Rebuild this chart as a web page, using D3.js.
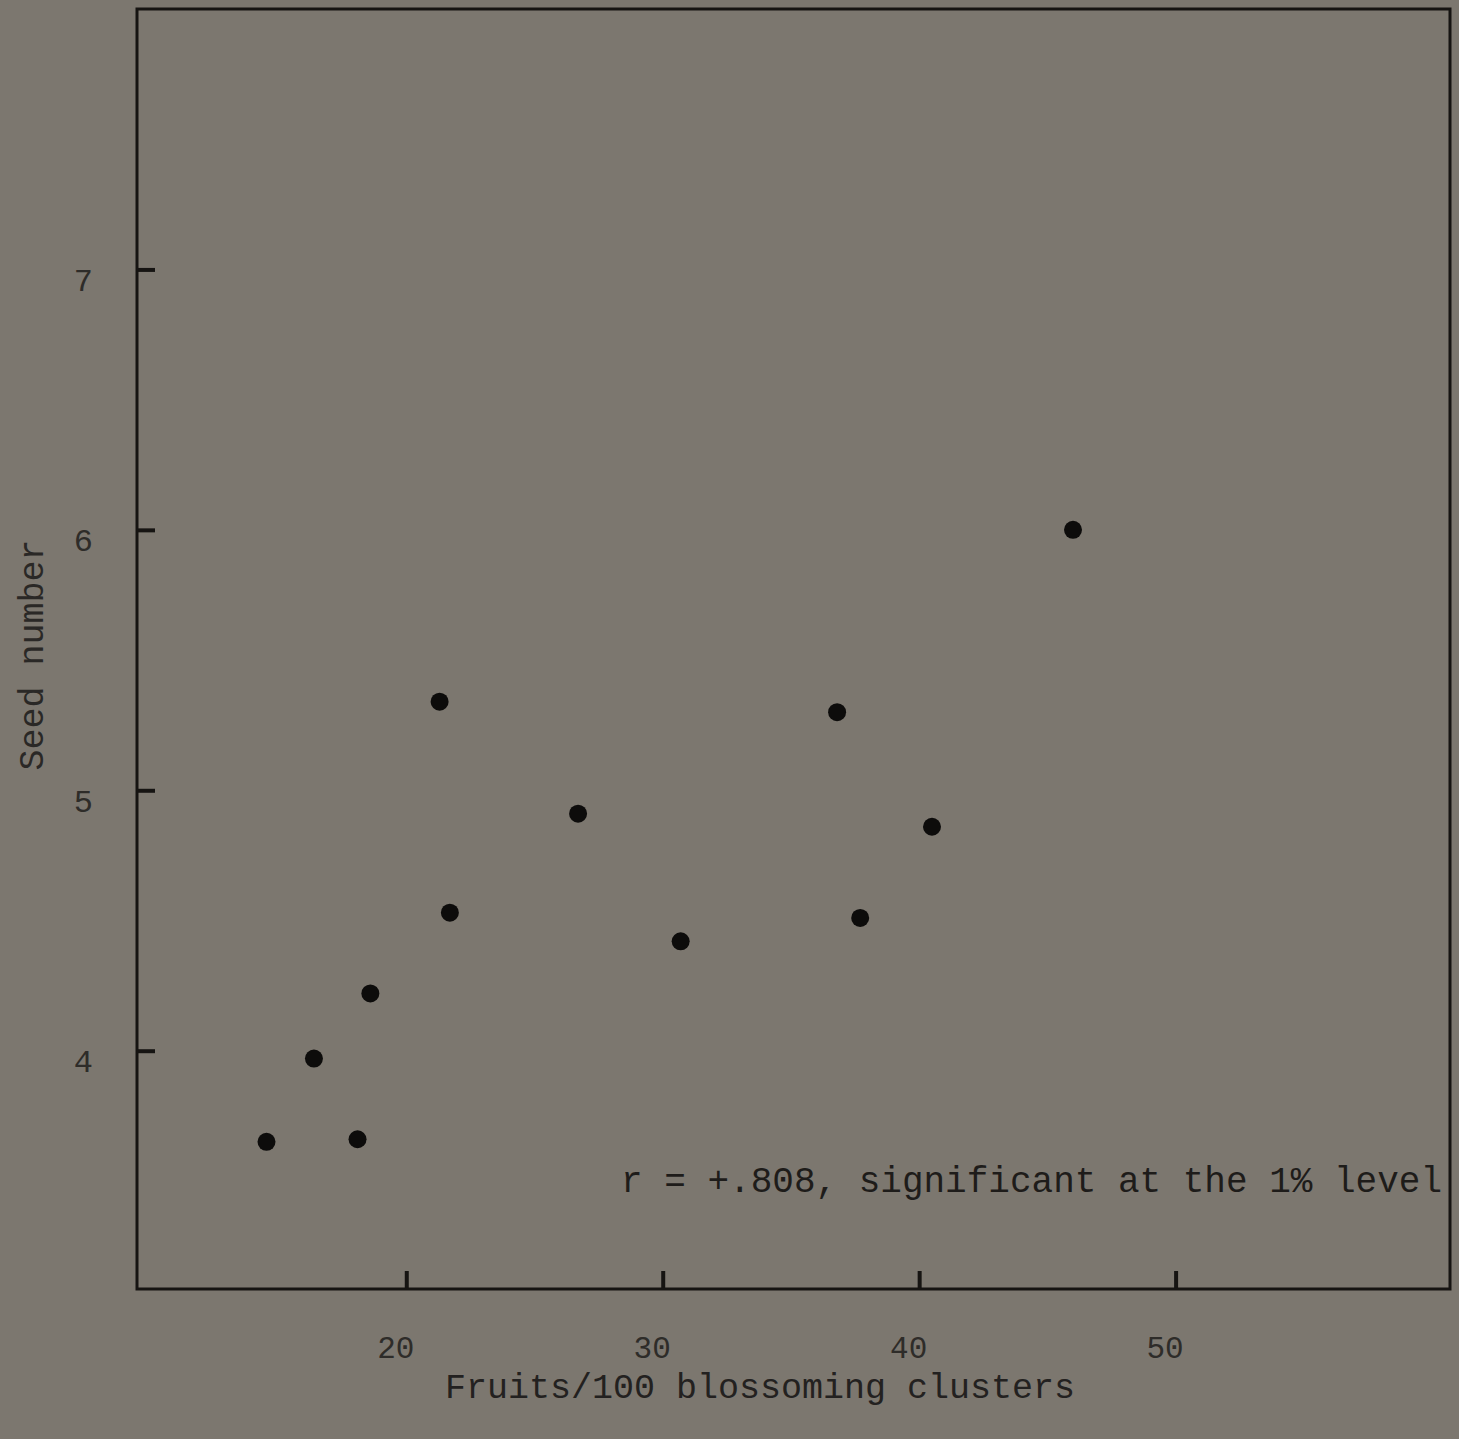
<!DOCTYPE html>
<html lang="en">
<head>
	<title>Seed number vs fruits</title>
	<script src="https://d3js.org/d3.v7.min.js" charset="utf-8"></script>
	<style>
		body { margin: 0; background: #7c776f; }
		text { font-family: "Liberation Mono", "DejaVu Sans Mono", monospace; }
	</style>
</head>
<body>
	<div id="chart"></div>
<script>
	// Data
	var fruits = [14.55, 16.4, 18.1, 18.6, 21.3, 21.7, 26.7, 30.7, 36.8, 37.7, 40.5, 46.0];
	var seeds  = [3.65, 3.97, 3.66, 4.22, 5.34, 4.53, 4.91, 4.42, 5.30, 4.51, 4.86, 6.00];
	var xTicks = [20, 30, 40, 50];
	var yTicks = [4, 5, 6, 7];
	var note = "r = +.808, significant at the 1% level";

	var w = 1459, h = 1439;
	var mLeft = 137, mRight = 1450, mTop = 9, mBottom = 1289;

	var svg = d3.select("#chart").append("svg")
		.attr("width", w)
		.attr("height", h);

	svg.append("rect").attr("width", w).attr("height", h).attr("fill", "#7c776f");

	var x = d3.scaleLinear().domain([9.5, 60.7]).range([mLeft, mRight]);
	var y = d3.scaleLinear().domain([3.085, 8.0]).range([mBottom, mTop]);

	// frame
	svg.append("rect")
		.attr("x", mLeft).attr("y", mTop)
		.attr("width", mRight - mLeft).attr("height", mBottom - mTop)
		.attr("fill", "none")
		.attr("stroke", "#161412")
		.attr("stroke-width", 3);

	// x axis ticks point up into the plot
	var gx = svg.append("g")
		.attr("transform", "translate(0," + mBottom + ")")
		.call(d3.axisBottom(x).tickValues(xTicks).tickSize(-18).tickPadding(47).tickFormat(d3.format("d")));
	gx.select(".domain").remove();
	gx.selectAll(".tick line").attr("stroke", "#161412").attr("stroke-width", 4);
	gx.selectAll(".tick text")
		.attr("fill", "#2e2c29")
		.attr("font-size", "31px")
		.attr("dx", "-11");

	// y axis ticks point right into the plot
	var gy = svg.append("g")
		.attr("transform", "translate(" + mLeft + ",0)")
		.call(d3.axisLeft(y).tickValues(yTicks).tickSize(-18).tickPadding(44).tickFormat(d3.format("d")));
	gy.select(".domain").remove();
	gy.selectAll(".tick line").attr("stroke", "#161412").attr("stroke-width", 4);
	gy.selectAll(".tick text")
		.attr("fill", "#2e2c29")
		.attr("font-size", "32px")
		.attr("dy", "0.65em");

	// points
	svg.selectAll("circle")
		.data(fruits)
		.enter()
		.append("circle")
		.attr("cx", function(d) { return x(d); })
		.attr("cy", function(d, i) { return y(seeds[i]); })
		.attr("r", 9)
		.attr("fill", "#0d0c0b");

	// axis labels
	svg.append("text")
		.attr("x", 760).attr("y", 1398)
		.attr("text-anchor", "middle")
		.attr("font-size", "35px")
		.attr("fill", "#232120")
		.text("Fruits/100 blossoming clusters");

	svg.append("text")
		.attr("transform", "translate(43, 655) rotate(-90)")
		.attr("text-anchor", "middle")
		.attr("font-size", "35px")
		.attr("fill", "#2a2826")
		.text("Seed number");

	// correlation note
	svg.append("text")
		.attr("x", 1442).attr("y", 1192)
		.attr("text-anchor", "end")
		.attr("font-size", "36px")
		.attr("fill", "#1e1c1a")
		.text(note);
</script>
</body>
</html>
